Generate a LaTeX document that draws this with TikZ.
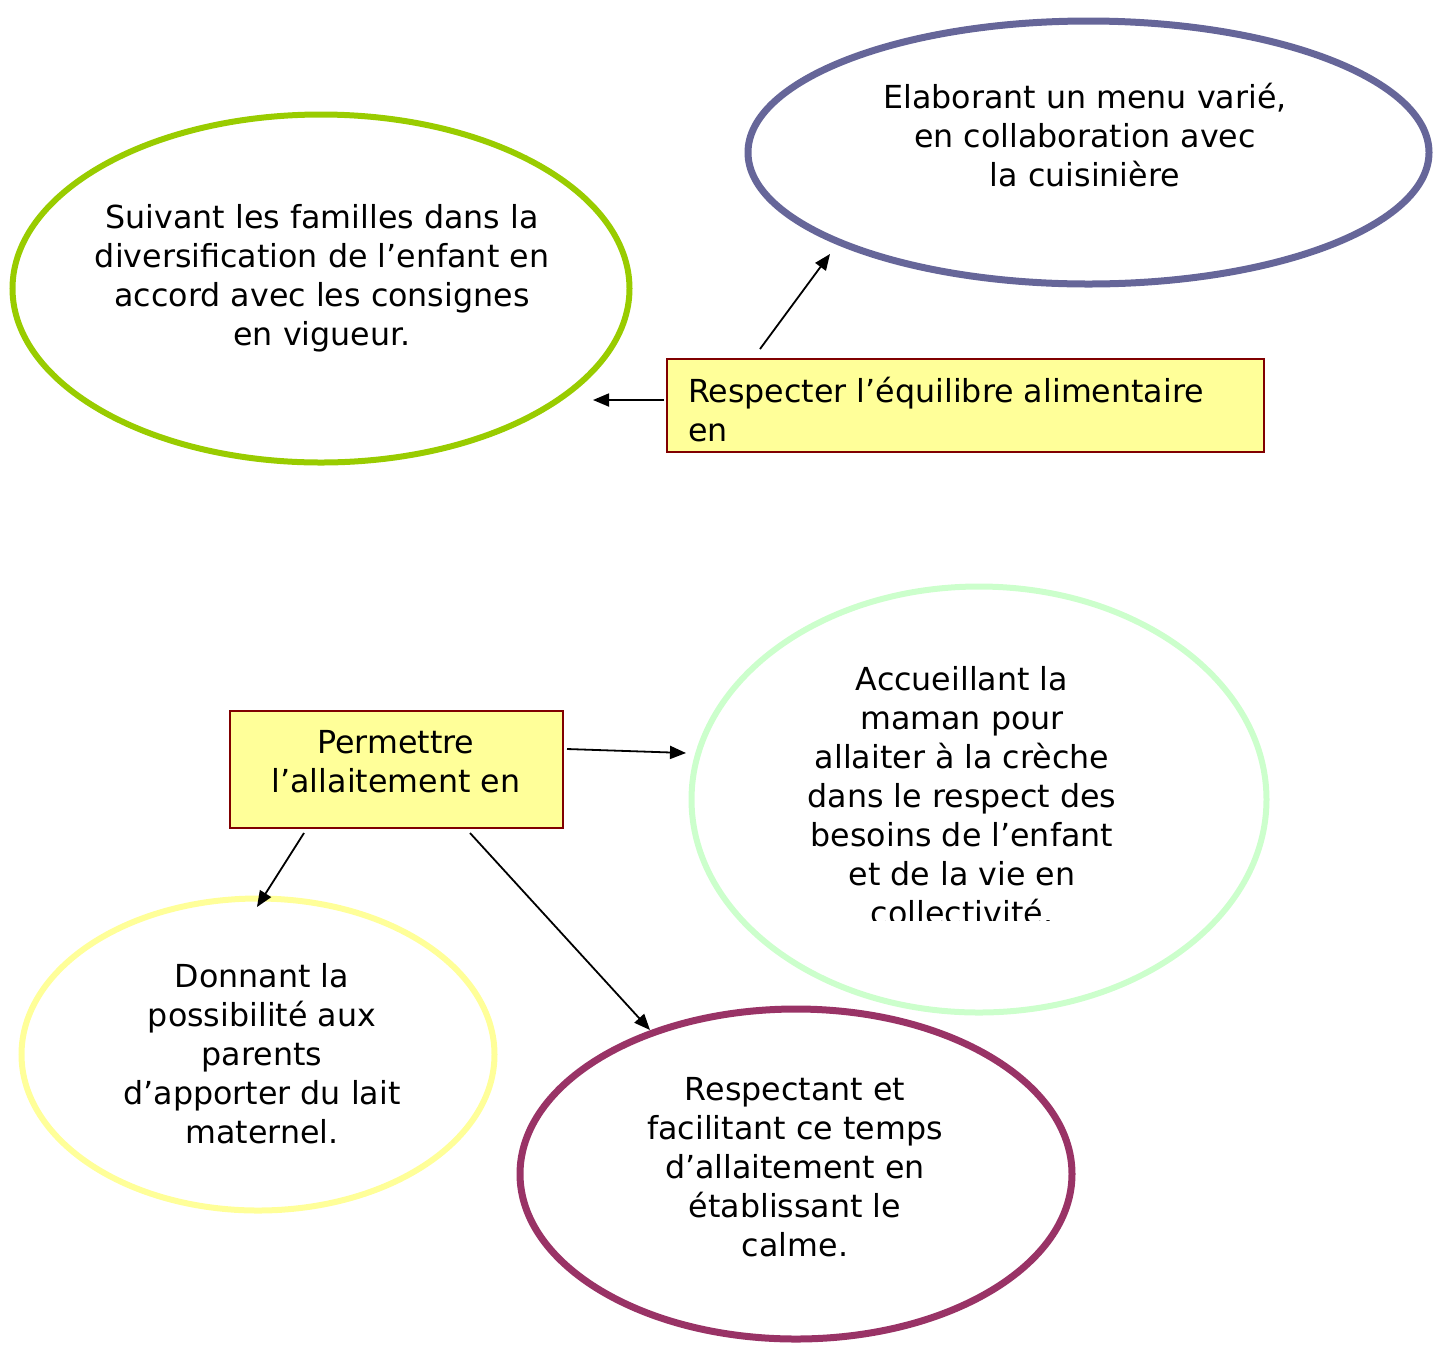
\documentclass[tikz,border=0pt]{standalone}
\usepackage{fontspec}
\setmainfont{DejaVu Sans}
\usetikzlibrary{shapes.geometric,arrows.meta}
\definecolor{cgreen}{HTML}{99CC00}
\definecolor{cpurple}{HTML}{666699}
\definecolor{cboxfill}{HTML}{FFFF99}
\definecolor{cboxline}{HTML}{800000}
\definecolor{clgreen}{HTML}{CCFFCC}
\definecolor{cyellow}{HTML}{FFFF99}
\definecolor{cmaroon}{HTML}{993366}
\tikzset{
  oval/.style={ellipse,draw,inner sep=0pt},
  txt/.style={align=center,inner sep=0pt,font=\fontsize{31.7}{39}\selectfont},
  boxnode/.style={rectangle,draw=cboxline,fill=cboxfill,line width=2pt,inner sep=0pt},
  arr/.style={line width=1.8pt,-{Triangle[length=16pt,width=13pt]}}
}
\begin{document}
\begin{tikzpicture}[x=1pt,y=-1pt]
\useasboundingbox (0,0) rectangle (1434,1345);
% ellipses
\node[oval,draw=cgreen,line width=6pt,minimum width=617,minimum height=348] (eA) at (321,288.5) {};
\node[oval,draw=cpurple,line width=7pt,minimum width=681,minimum height=263] (eB) at (1088.5,152.5) {};
\node[oval,draw=clgreen,line width=6pt,minimum width=575,minimum height=426] (eC) at (979,799.5) {};
\node[oval,draw=cyellow,line width=6pt,minimum width=473,minimum height=312] (eD) at (258,1054.5) {};
\node[oval,draw=cmaroon,line width=7pt,minimum width=552,minimum height=330] (eE) at (796,1174) {};
% texts in ellipses
\node[txt] (tA) at (322,278) {Suivant les familles dans la\\diversification de l’enfant en\\accord avec les consignes\\en vigueur.};
\node[txt] (tB) at (1085,135) {Elaborant un menu varié,\\en collaboration avec\\la cuisinière};
\begin{scope}
\clip (0,0) rectangle (1434,920);
\node[txt] (tC) at (962,796) {Accueillant la\\maman pour\\allaiter à la crèche\\dans le respect des\\besoins de l’enfant\\et de la vie en\\collectivité.};
\end{scope}
\node[txt] (tD) at (262,1054) {Donnant la\\possibilité aux\\parents\\d’apporter du lait\\maternel.};
\node[txt] (tE) at (795,1167) {Respectant et\\facilitant ce temps\\d’allaitement en\\établissant le\\calme.};
% boxes
\node[boxnode,minimum width=597,minimum height=93] (b1) at (965.5,405.5) {};
\node[txt,align=left,anchor=west] (tb1) at (688,410) {Respecter l’équilibre alimentaire\\en};
\node[boxnode,minimum width=333,minimum height=117] (b2) at (396.5,769.5) {};
\node[txt] (tb2) at (396,762) {Permettre\\l’allaitement en};
% arrow ends
\coordinate (p1) at (593,400);
\coordinate (p2) at (830,254);
\coordinate (p3) at (686,753);
\coordinate (p4) at (257,907);
\coordinate (p5) at (650,1030);
\draw[arr] ([xshift=-2pt,yshift=5.5pt]b1.west) -- (p1);
\draw[arr] ([xshift=-205.5pt,yshift=9pt]b1.north) -- (p2);
\draw[arr] ([xshift=3pt,yshift=20.5pt]b2.east) -- (p3);
\draw[arr] ([xshift=-92.5pt,yshift=-4pt]b2.south) -- (p4);
\draw[arr] ([xshift=73.5pt,yshift=-4pt]b2.south) -- (p5);
\end{tikzpicture}
\end{document}
